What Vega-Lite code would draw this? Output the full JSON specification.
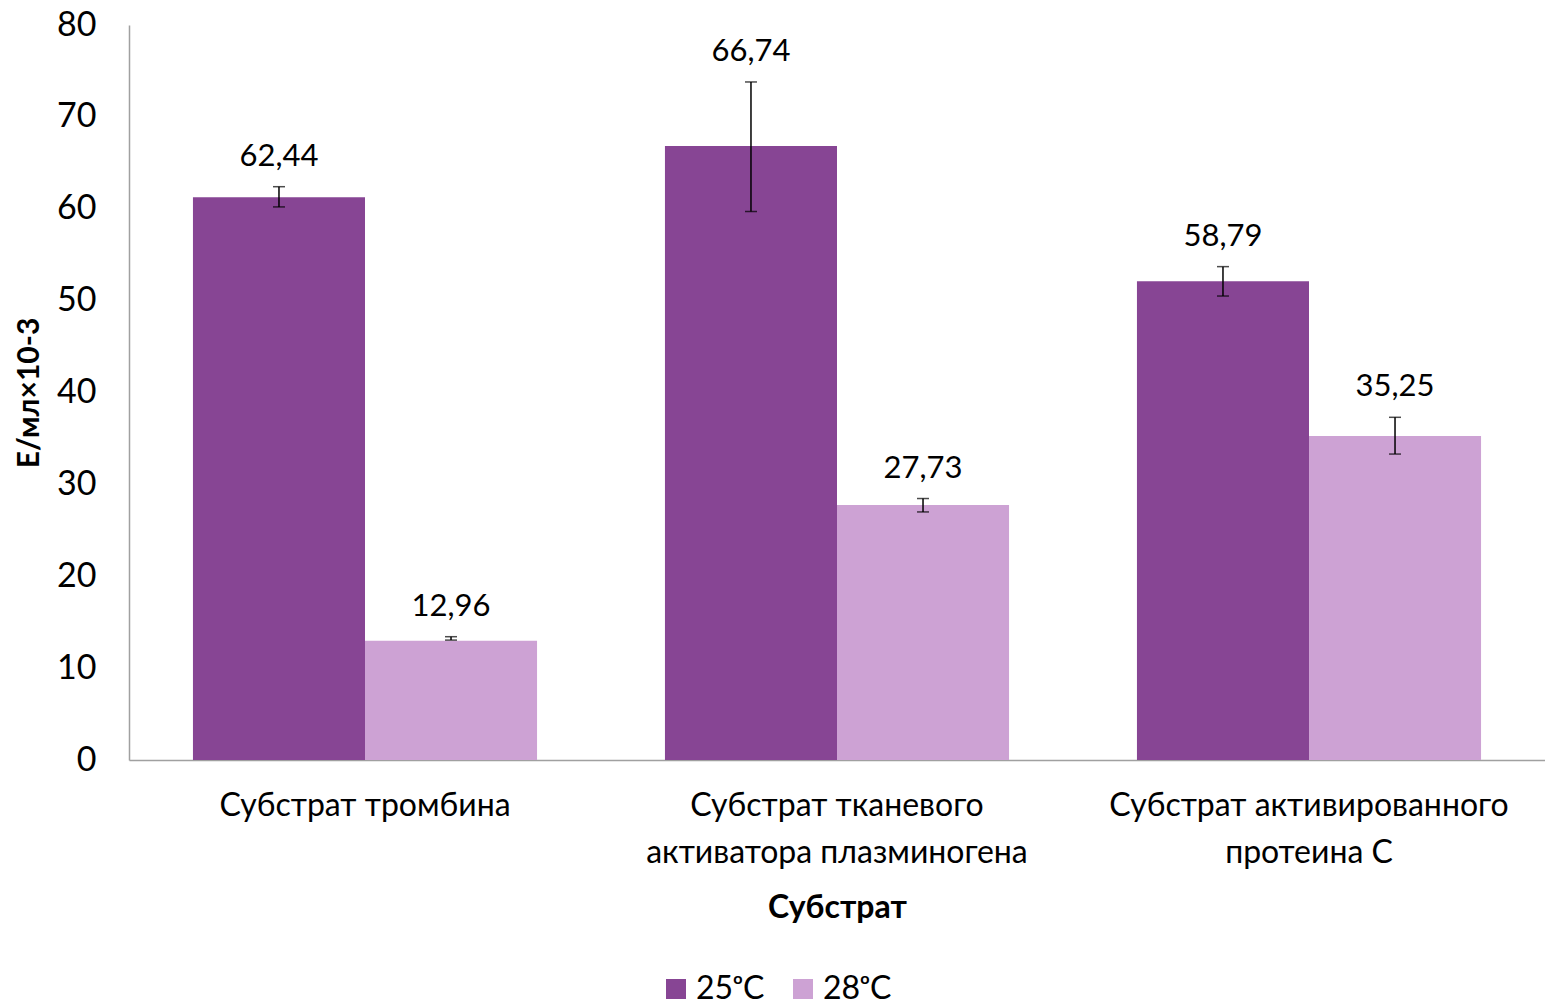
{
  "$schema": "https://vega.github.io/schema/vega-lite/v6.json",
  "width": 1416,
  "height": 735,
  "autosize": {"type": "none"},
  "padding": {"left": 129, "top": 25, "right": 0, "bottom": 248},
  "background": "white",
  "config": {
    "view": {"stroke": null},
    "font": "Lato",
    "axis": {"grid": false, "ticks": false, "domainColor": "#A0A0A0", "domainWidth": 1.5, "labelColor": "#000000", "titleColor": "#000000", "labelFont": "Lato", "titleFont": "Lato", "labelOverlap": false, "labelLimit": 0}
  },
  "data": {
    "values": [
      {"substrate": "Субстрат тромбина", "temp": "25ᵒC", "value": 61.24, "lo": 60.2, "hi": 62.4, "label": "62,44"},
      {"substrate": "Субстрат тромбина", "temp": "28ᵒC", "value": 12.99, "lo": 13.05, "hi": 13.42, "label": "12,96"},
      {"substrate": "Субстрат тканевого активатора плазминогена", "temp": "25ᵒC", "value": 66.83, "lo": 59.7, "hi": 73.8, "label": "66,74"},
      {"substrate": "Субстрат тканевого активатора плазминогена", "temp": "28ᵒC", "value": 27.76, "lo": 27.0, "hi": 28.46, "label": "27,73"},
      {"substrate": "Субстрат активированного протеина С", "temp": "25ᵒC", "value": 52.1, "lo": 50.5, "hi": 53.7, "label": "58,79"},
      {"substrate": "Субстрат активированного протеина С", "temp": "28ᵒC", "value": 35.27, "lo": 33.3, "hi": 37.3, "label": "35,25"}
    ]
  },
  "encoding": {
    "x": {
      "field": "substrate", "type": "nominal", "sort": null,
      "scale": {"paddingInner": 0.271, "paddingOuter": 0.1355},
      "axis": {
        "title": "Субстрат", "titleFontSize": 32, "titleFontWeight": "bold", "titlePadding": 24,
        "labelAngle": 0, "labelFontSize": 32, "labelPadding": 30, "labelLineHeight": 47,
        "labelExpr": "datum.label == 'Субстрат тканевого активатора плазминогена' ? ['Субстрат тканевого', 'активатора плазминогена'] : datum.label == 'Субстрат активированного протеина С' ? ['Субстрат активированного', 'протеина С'] : datum.label"
      }
    },
    "xOffset": {"field": "temp", "type": "nominal", "scale": {"paddingInner": 0, "paddingOuter": 0}}
  },
  "layer": [
    {
      "mark": {"type": "bar"},
      "encoding": {
        "y": {"field": "value", "type": "quantitative", "scale": {"domain": [0, 80]},
          "axis": {"title": "Е/мл×10-3", "titleFontSize": 30, "titleFontWeight": "bold", "titlePadding": 12, "labelFontSize": 34, "labelPadding": 33, "values": [0,10,20,30,40,50,60,70,80]}},
        "color": {"field": "temp", "type": "nominal",
          "scale": {"domain": ["25ᵒC", "28ᵒC"], "range": ["#874594", "#CDA2D4"]},
          "legend": {"title": null, "orient": "none", "legendX": 531, "legendY": 948, "direction": "horizontal", "symbolType": "square", "symbolSize": 400, "symbolStrokeWidth": 0, "labelFontSize": 32, "labelOffset": 4, "columnPadding": 22, "labelLimit": 200}}
      }
    },
    {
      "mark": {"type": "rule", "color": "black", "strokeWidth": 1.5},
      "encoding": {"y": {"field": "lo", "type": "quantitative"}, "y2": {"field": "hi"}}
    },
    {
      "mark": {"type": "tick", "color": "black", "thickness": 1.5, "size": 12},
      "encoding": {"y": {"field": "lo", "type": "quantitative"}}
    },
    {
      "mark": {"type": "tick", "color": "black", "thickness": 1.5, "size": 12},
      "encoding": {"y": {"field": "hi", "type": "quantitative"}}
    },
    {
      "mark": {"type": "text", "fontSize": 31, "baseline": "middle", "dy": -30, "color": "black"},
      "encoding": {"y": {"field": "hi", "type": "quantitative"}, "text": {"field": "label"}}
    }
  ]
}
